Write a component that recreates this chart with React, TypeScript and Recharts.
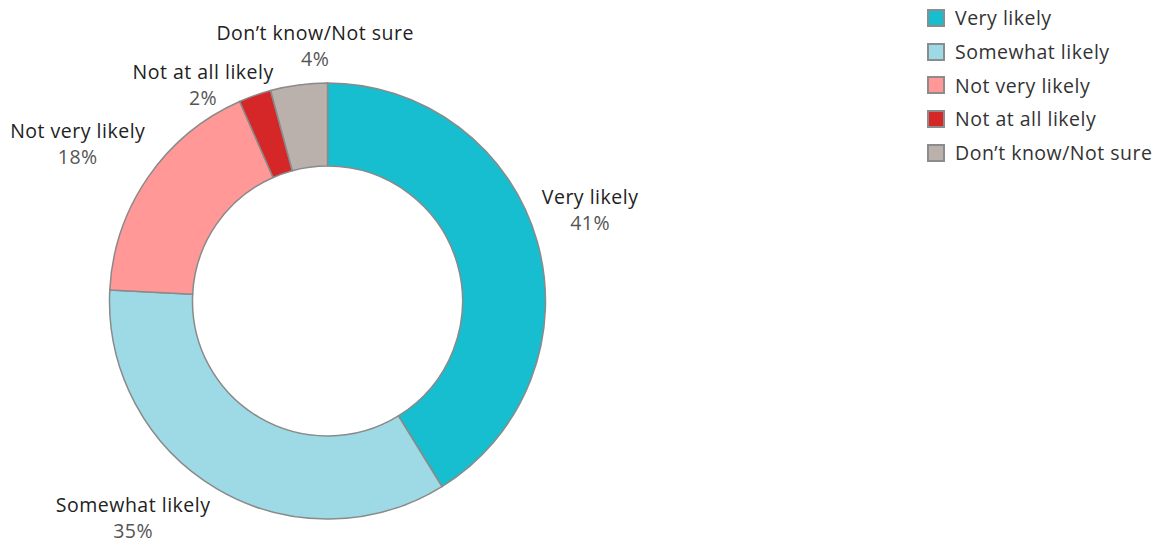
import React from "react";
import { PieChart, Pie, Cell, Legend } from "recharts";

const categories = ["Very likely", "Somewhat likely", "Not very likely", "Not at all likely", "Don’t know/Not sure"];
const values = [41.2, 34.6, 17.6, 2.4, 4.2];
const colors = ["#17becf", "#9edae5", "#ff9896", "#d62728", "#bab0ac"];

const data = categories.map((name, i) => ({ name, value: values[i] }));

// label placement tweaks (clockwise angle nudge in degrees, extra distance beyond outer radius)
const labelNudge = [-3.3, 11.3, -2.4, -10.4, 4.8];
const labelExtra = [60, 73, 77, 32, 38];

const FONT = "'Open Sans', sans-serif";
const RAD = Math.PI / 180;

const renderLabel = (props: any) => {
  const { cx, cy, midAngle, outerRadius, index, name, value } = props;
  const ang = (midAngle - labelNudge[index]) * RAD;
  const r = outerRadius + labelExtra[index];
  const x = cx + r * Math.cos(ang);
  const y = cy - r * Math.sin(ang);
  return (
    <text x={x} y={y} textAnchor="middle" fontFamily={FONT} fontSize={19.5} letterSpacing={0.5}>
      <tspan x={x} y={y - 13} dominantBaseline="central" fill="#222">{name}</tspan>
      <tspan x={x} y={y + 13} dominantBaseline="central" fill="#555">{Math.round(value) + "%"}</tspan>
    </text>
  );
};

const renderLegend = () => (
  <div style={{ fontFamily: FONT, fontSize: 19.5, letterSpacing: 0.5, color: "#333" }}>
    {categories.map((c, i) => (
      <div key={c} style={{ display: "flex", alignItems: "center", height: 33.7 }}>
        <div style={{ width: 18, height: 18, background: colors[i], border: "2px solid #8c8c8c", boxSizing: "border-box", marginRight: 10 }} />
        <span>{c}</span>
      </div>
    ))}
  </div>
);

export default function App() {
  return (
    <div style={{ position: "absolute", left: 0, top: 0, width: 1173, height: 545, background: "#fff" }}>
      <PieChart width={1173} height={545} margin={{ top: 0, right: 0, bottom: 0, left: 0 }}>
        <Pie
          data={data}
          dataKey="value"
          nameKey="name"
          cx={327.5}
          cy={301}
          innerRadius={135}
          outerRadius={218}
          startAngle={90}
          endAngle={-270}
          stroke="#8a8a8a"
          strokeWidth={1.5}
          label={renderLabel}
          labelLine={false}
          isAnimationActive={false}
        >
          {data.map((d, i) => (
            <Cell key={d.name} fill={colors[i]} />
          ))}
        </Pie>
        <Legend
          content={renderLegend}
          layout="vertical"
          verticalAlign="top"
          align="right"
          wrapperStyle={{ left: 927, top: 1, width: 246 }}
        />
      </PieChart>
    </div>
  );
}
